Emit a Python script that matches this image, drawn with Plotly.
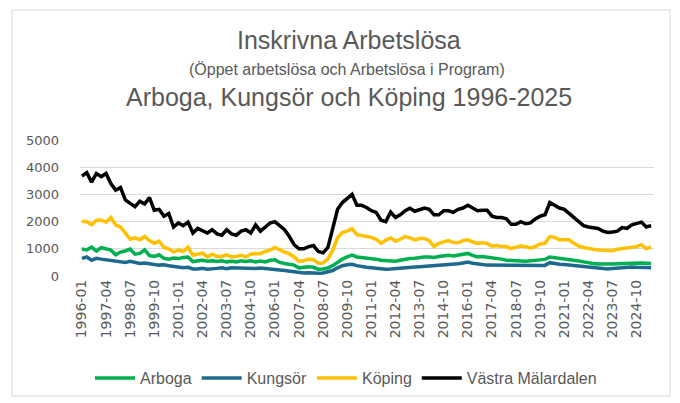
import plotly.graph_objects as go

# Quarterly categories 1996-01 .. 2025-07
years = list(range(1996, 2026))
months = ["01", "04", "07", "10"]
categories = [f"{y}-{m}" for y in years for m in months][:119]

arboga = [
    990, 960, 1060, 920,
    1040, 1000, 950, 780,
    880, 920, 990, 800,
    830, 960, 750, 720,
    780, 650, 620, 660,
    640, 680, 700, 530,
    560, 580, 540, 560,
    530, 560, 520, 540,
    520, 560, 530, 560,
    520, 550, 520, 580,
    600, 500, 460, 430,
    400, 300, 320, 340,
    320, 250, 260, 300,
    380, 500, 620, 700,
    770, 700, 680, 660,
    660, 620, 580, 560,
    560, 540, 580, 620,
    640, 650, 680, 700,
    700, 680, 720, 740,
    760, 740, 780, 800,
    830, 760, 700, 720,
    700, 660, 640, 620,
    580, 560, 540, 550,
    540, 550, 560, 600,
    610, 700, 680, 640,
    620, 600, 580, 550,
    520, 480, 460, 440,
    430, 430, 440, 450,
    460, 480, 490, 490,
    480, 470, 460,
]

kungsor = [
    650, 700, 580, 650,
    620, 600, 580, 540,
    520, 500, 540, 500,
    460, 480, 440, 420,
    400, 410, 380, 360,
    330, 300, 320, 260,
    260, 280, 250, 280,
    280, 300, 270, 300,
    290, 300, 280, 290,
    280, 290, 280, 260,
    240, 220, 200, 180,
    160, 120, 110, 120,
    100, 100, 110, 140,
    200, 300, 380, 410,
    430, 380, 340, 320,
    300, 280, 260, 250,
    260, 280, 300, 320,
    340, 330, 340, 350,
    360, 380, 400, 410,
    420, 430, 450, 480,
    510, 470, 430, 420,
    400, 400, 390, 370,
    370, 370, 370, 370,
    370, 370, 370, 380,
    390, 490, 450, 430,
    420, 400, 380, 360,
    330, 310, 290, 270,
    250, 260, 280, 300,
    320, 340, 330, 320,
    330, 310, 300,
]

koping = [
    2000, 2000, 1880, 2050,
    2050, 1980, 2150, 1880,
    1800, 1570, 1350, 1400,
    1330, 1450, 1300, 1200,
    1280, 1050, 1000, 880,
    950, 900, 1060, 760,
    800, 840, 700, 800,
    720, 720, 780, 700,
    720, 760, 700, 800,
    830, 820, 900, 950,
    1050, 950, 880, 820,
    700, 540, 560, 620,
    600, 470, 480, 620,
    950, 1400, 1600, 1650,
    1740, 1520, 1470, 1450,
    1420, 1350, 1200, 1320,
    1400, 1280, 1350, 1450,
    1400, 1330, 1380, 1380,
    1300, 1080, 1200, 1250,
    1300, 1230, 1220, 1300,
    1330, 1250, 1200, 1220,
    1200, 1100, 1120, 1080,
    1080, 1010, 1050, 1100,
    1080, 1030, 1080, 1180,
    1200, 1450, 1420, 1330,
    1330, 1330, 1200, 1100,
    1050, 1000, 980, 960,
    950, 940, 930, 980,
    1000, 1020, 1050, 1080,
    1150, 1000, 1070,
]

vastra = [
    3670, 3800, 3450, 3770,
    3650, 3770, 3400, 3150,
    3250, 2800, 2670, 2550,
    2750, 2650, 2880, 2420,
    2450, 2200, 2300, 1800,
    1950, 1850, 1980, 1580,
    1750, 1650, 1580, 1700,
    1550, 1500, 1700, 1550,
    1500, 1650, 1700, 1580,
    1880, 1650, 1800, 1950,
    2000, 1850, 1700, 1450,
    1150, 1000, 1000, 1080,
    1120, 900, 850, 1050,
    1750, 2450, 2700, 2850,
    3000, 2600, 2600, 2520,
    2400, 2340, 2050, 2000,
    2350, 2150, 2250, 2400,
    2490, 2380, 2450, 2500,
    2450, 2250, 2250, 2400,
    2400, 2340, 2450, 2500,
    2600, 2500, 2400, 2420,
    2420, 2200, 2150, 2150,
    2100, 1900, 1900, 2000,
    1920, 1950, 2100, 2200,
    2250, 2700, 2600, 2500,
    2450, 2300, 2150, 2000,
    1850, 1800, 1770, 1750,
    1650, 1600, 1620, 1650,
    1780, 1750, 1880, 1920,
    1980, 1800, 1850,
]

series_names = ["Arboga", "Kungsör", "Köping", "Västra Mälardalen"]
series_values = [arboga, kungsor, koping, vastra]
series_colors = ["#00B050", "#1D6A8E", "#FFC000", "#000000"]

tick_labels = categories[::5]

FONT = "Liberation Sans, Arial, sans-serif"
TICKFONT = "DejaVu Sans, Liberation Sans, sans-serif"
GRAY = "#595959"

fig = go.Figure()
for name, vals, col in zip(series_names, series_values, series_colors):
    fig.add_trace(go.Scatter(
        x=categories, y=vals, name=name, mode="lines",
        line=dict(color=col, width=3.5, shape="linear"),
    ))

# page body has an 8px margin; figure coordinates below are page coords - 8
L, R, T, B = 72, 34, 132, 135
W, H = 680, 403
pw, ph = W - L - R, H - T - B

def px_x(px):
    return (px - L) / pw

def px_y(py):
    return (H - B - py) / ph

fig.update_layout(
    width=W, height=H,
    margin=dict(l=L, r=R, t=T, b=B, autoexpand=False),
    paper_bgcolor="white", plot_bgcolor="white",
    font=dict(family=FONT, color=GRAY, size=14),
    showlegend=True,
    legend=dict(
        orientation="h", x=px_x(338), xanchor="center", y=px_y(370), yanchor="middle",
        font=dict(size=16, color=GRAY, family=FONT), itemwidth=40,
        tracegroupgap=0,
    ),
    xaxis=dict(
        type="category", range=[-0.4, 118.6], automargin=False,
        tickmode="array", tickvals=tick_labels, ticktext=tick_labels,
        tickangle=-90, showgrid=False, zeroline=False, showline=False,
        ticks="", tickfont=dict(size=14, color=GRAY, family=TICKFONT),
    ),
    yaxis=dict(
        range=[0, 5000], tickvals=[0, 1000, 2000, 3000, 4000, 5000], automargin=False,
        showgrid=True, gridcolor="#D9D9D9", gridwidth=1.3,
        zeroline=False, showline=False, ticks="",
        tickfont=dict(size=13, color=GRAY, family=TICKFONT),
        ticklabelstandoff=20,
    ),
    shapes=[dict(
        type="rect", xref="paper", yref="paper",
        x0=px_x(4), x1=px_x(662), y0=px_y(388), y1=px_y(2),
        line=dict(color="#D9D9D9", width=1), fillcolor="rgba(0,0,0,0)", layer="below",
    )],
    annotations=[
        dict(text="Inskrivna Arbetslösa", x=px_x(341), y=px_y(32), xref="paper", yref="paper",
             showarrow=False, font=dict(size=25, color=GRAY, family=FONT), yanchor="middle"),
        dict(text="(Öppet arbetslösa och Arbetslösa i Program)", x=px_x(339), y=px_y(61),
             xref="paper", yref="paper", showarrow=False,
             font=dict(size=16, color=GRAY, family=FONT), yanchor="middle"),
        dict(text="Arboga, Kungsör och Köping 1996-2025", x=px_x(341), y=px_y(89),
             xref="paper", yref="paper", showarrow=False,
             font=dict(size=25, color=GRAY, family=FONT), yanchor="middle"),
    ],
)

fig.write_html("out.html")
